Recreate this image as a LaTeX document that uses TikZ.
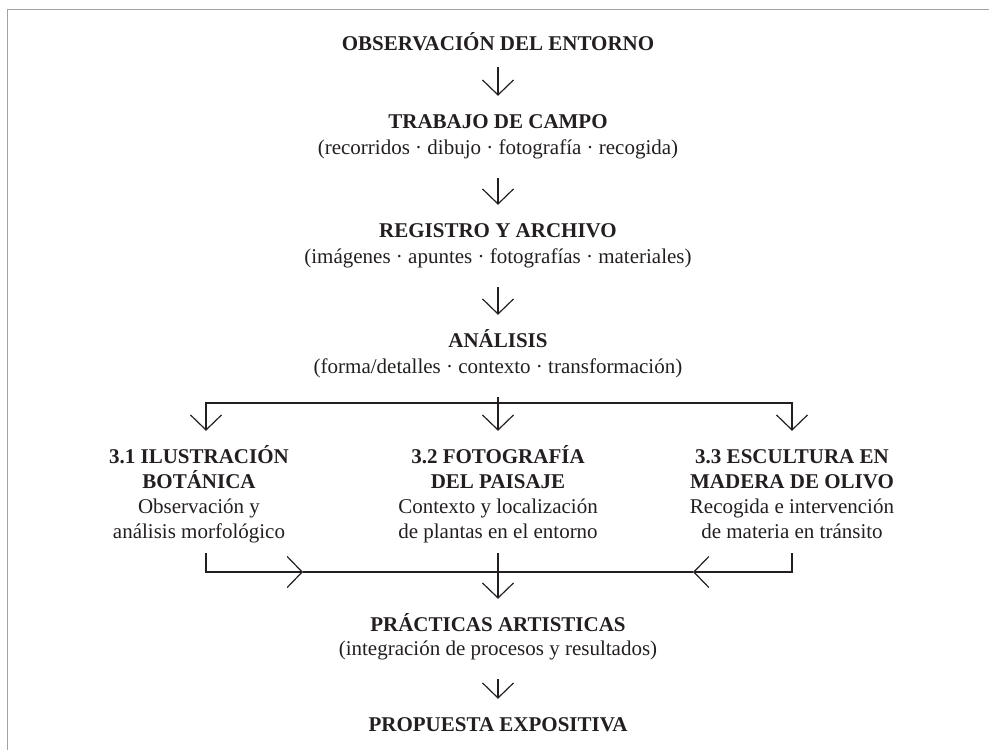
\documentclass[tikz,border=0pt]{standalone}
\usepackage{fontspec}
\setmainfont{Liberation Serif}
\usetikzlibrary{arrows.meta}
\definecolor{ink}{HTML}{231F20}
\definecolor{rule}{HTML}{A3A3A3}
\tikzset{
  ttl/.style={font=\bfseries\fontsize{21}{25}\selectfont,text=ink,anchor=base,inner xsep=0pt,inner ysep=17pt,text height=15pt,text depth=7pt},
  sub/.style={ttl,font=\fontsize{21}{25}\selectfont},
  ln/.style={draw=ink,line width=1.2pt},
  arr/.style={ln,-{Straight Barb[length=15pt,width=31pt]}}
}
\begin{document}
\begin{tikzpicture}[x=1pt,y=-1pt]
\useasboundingbox (0,0) rectangle (989,750);
\draw[rule,line width=1pt] (7,750)--(7,9)--(989,9);
% main column
\node[ttl] (obs) at (498,50) {OBSERVACIÓN DEL ENTORNO};
\node[ttl] (trab) at (498,128) {TRABAJO DE CAMPO};
\node[sub] (trab2) at (498,154) {(recorridos · dibujo · fotografía · recogida)};
\node[ttl] (reg) at (498,237) {REGISTRO Y ARCHIVO};
\node[sub] (reg2) at (498,263) {(imágenes · apuntes · fotografías · materiales)};
\node[ttl] (ana) at (498,347) {ANÁLISIS};
\node[sub] (ana2) at (498,373) {(forma/detalles · contexto · transformación)};
\draw[arr,shorten <=-7pt] (obs)--(trab);
\draw[arr] (trab2)--(reg);
\draw[arr] (reg2)--(ana);
% three branches
\node[ttl] (ilu1) at (199,463) {3.1 ILUSTRACIÓN};
\node[ttl] (ilu2) at (199,488) {BOTÁNICA};
\node[sub] (ilu3) at (199,513) {Observación y};
\node[sub] (ilu4) at (199,538) {análisis morfológico};
\node[ttl] (foto1) at (498,463) {3.2 FOTOGRAFÍA};
\node[ttl] (foto2) at (498,488) {DEL PAISAJE};
\node[sub] (foto3) at (498,513) {Contexto y localización};
\node[sub] (foto4) at (498,538) {de plantas en el entorno};
\node[ttl] (esc1) at (792,463) {3.3 ESCULTURA EN};
\node[ttl] (esc2) at (792,488) {MADERA DE OLIVO};
\node[sub] (esc3) at (792,513) {Recogida e intervención};
\node[sub] (esc4) at (792,538) {de materia en tránsito};
\coordinate (lx) at (206,0);
\coordinate (br) at (498,403);
\coordinate (jn) at (498,572);
\coordinate (lt) at (303,572);
\coordinate (rt) at (693,572);
\draw[arr] (ana2)--(foto1);
\draw[arr] (br)-|(ilu1.north -| lx);
\draw[arr] (br)-|(esc1);
% back together
\node[ttl] (prac) at (498,631) {PRÁCTICAS ARTISTICAS};
\node[sub] (prac2) at (498,655) {(integración de procesos y resultados)};
\node[ttl] (prop) at (498,731) {PROPUESTA EXPOSITIVA};
\draw[arr,shorten <=-9pt] (ilu4.south -| lx)|-(lt);
\draw[ln] (lt)--(jn);
\draw[arr,shorten <=-9pt] (esc4)|-(rt);
\draw[ln] (rt)--(jn);
\draw[arr,shorten <=-9pt] (foto4)--(prac);
\draw[arr] (prac2)--(prop);
\end{tikzpicture}
\end{document}
